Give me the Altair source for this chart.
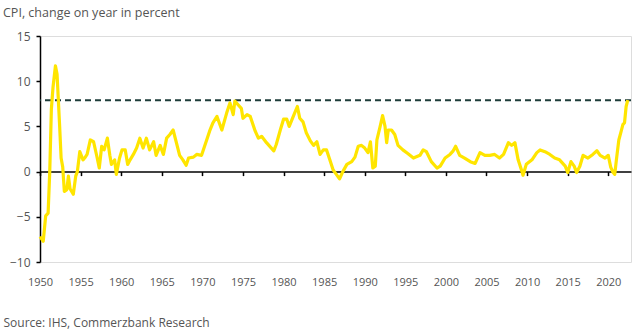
import altair as alt
import pandas as pd

years = [1950.0, 1950.4, 1950.7, 1951.0, 1951.2, 1951.4, 1951.6, 1951.9, 1952.1, 1952.4,
         1952.6, 1952.8, 1953.0, 1953.3, 1953.5, 1953.7, 1954.1, 1954.4, 1954.6, 1954.9,
         1955.3, 1955.5, 1955.8, 1956.2, 1956.6, 1957.0, 1957.3, 1957.6, 1957.9, 1958.3,
         1958.6, 1958.8, 1959.2, 1959.4, 1959.8, 1960.1, 1960.5, 1960.8, 1961.1, 1961.5,
         1961.9, 1962.3, 1962.7, 1963.1, 1963.5, 1964.0, 1964.3, 1964.8, 1965.2, 1965.6,
         1966.0, 1966.4, 1966.8, 1967.2, 1967.6, 1968.0, 1968.3, 1968.9, 1969.3, 1969.9,
         1970.5, 1970.9, 1971.3, 1971.8, 1972.4, 1973.0, 1973.4, 1973.8, 1974.0, 1974.4,
         1974.8, 1975.0, 1975.5, 1975.9, 1976.5, 1976.9, 1977.3, 1977.9, 1978.5, 1978.8,
         1979.1, 1979.6, 1980.0, 1980.4, 1980.7, 1981.2, 1981.7, 1982.0, 1982.4, 1982.8,
         1983.3, 1983.7, 1984.1, 1984.5, 1984.9, 1985.3, 1985.7, 1986.1, 1986.5, 1986.9,
         1987.3, 1987.8, 1988.4, 1988.8, 1989.2, 1989.6, 1990.0, 1990.4, 1990.7, 1991.0,
         1991.3, 1991.5, 1991.9, 1992.2, 1992.5, 1992.7, 1992.9, 1993.3, 1993.7, 1994.1,
         1994.7, 1995.3, 1996.0, 1996.8, 1997.2, 1997.6, 1998.2, 1998.9, 1999.3, 1999.9,
         2000.5, 2000.9, 2001.2, 2001.7, 2002.3, 2003.0, 2003.6, 2004.2, 2004.8, 2005.4,
         2006.0, 2006.6, 2007.1, 2007.7, 2008.1, 2008.5, 2008.9, 2009.3, 2009.5, 2009.9,
         2010.6, 2011.2, 2011.6, 2012.2, 2012.8, 2013.4, 2014.0, 2014.7, 2015.0, 2015.4,
         2015.8, 2016.1, 2016.5, 2016.9, 2017.5, 2018.1, 2018.6, 2019.0, 2019.6, 2020.0,
         2020.3, 2020.6, 2020.8, 2021.0, 2021.3, 2021.6, 2021.8, 2022.0, 2022.2, 2022.4]

cpi = [-7.2, -7.7, -4.9, -4.6, 0.0, 6.9, 9.3, 11.7, 10.8, 5.4,
       1.5, 0.5, -2.2, -2.0, -0.5, -1.9, -2.5, -0.5, 0.0, 2.2,
       1.3, 1.5, 1.9, 3.5, 3.3, 1.7, 0.4, 2.8, 2.4, 3.7,
       1.8, 0.8, 1.3, -0.3, 1.5, 2.4, 2.4, 0.8, 1.3, 1.9,
       2.6, 3.7, 2.6, 3.7, 2.4, 3.3, 1.8, 2.9, 1.9, 3.7,
       4.1, 4.6, 3.2, 1.8, 1.3, 0.7, 1.5, 1.6, 1.9, 1.8,
       3.4, 4.5, 5.4, 6.1, 4.6, 6.5, 7.6, 6.3, 7.8, 7.4,
       7.0, 5.9, 6.3, 6.1, 4.5, 3.7, 3.9, 3.2, 2.6, 2.3,
       3.0, 4.6, 5.8, 5.8, 5.0, 6.1, 7.2, 5.9, 5.5, 4.3,
       3.4, 2.9, 3.3, 1.9, 2.4, 2.4, 1.3, 0.2, -0.3, -0.8,
       0.0, 0.8, 1.1, 1.6, 2.8, 2.9, 2.6, 2.1, 3.3, 0.4,
       0.6, 3.5, 5.0, 6.2, 5.0, 3.2, 4.6, 4.6, 4.1, 2.9,
       2.4, 2.0, 1.5, 1.8, 2.4, 2.2, 1.1, 0.4, 0.6, 1.5,
       1.9, 2.3, 2.8, 1.8, 1.5, 1.1, 0.9, 2.1, 1.8, 1.8,
       1.9, 1.5, 1.9, 3.2, 2.9, 3.2, 1.3, 0.2, -0.4, 0.8,
       1.3, 2.1, 2.4, 2.2, 1.9, 1.5, 1.3, 0.6, -0.1, 1.1,
       0.6, -0.1, 0.6, 1.8, 1.5, 1.9, 2.3, 1.8, 1.5, 1.8,
       0.5, -0.1, -0.3, 1.3, 3.5, 4.5, 5.2, 5.4, 7.2, 7.9]

reference_level = [7.9]
x_ticks = [1950, 1955, 1960, 1965, 1970, 1975, 1980, 1985, 1990, 1995, 2000, 2005, 2010, 2015, 2020]
y_ticks = [-10, -5, 0, 5, 10, 15]

df = pd.DataFrame({"year": years, "cpi": cpi})
ref = pd.DataFrame({"level": reference_level})

FONT = "Open Sans"
GRAY = "#555555"

x_scale = alt.Scale(domain=[1950, 2022.8], nice=False, zero=False)
y_scale = alt.Scale(domain=[-10, 15], nice=False)

line = alt.Chart(df).mark_line(color="#ffe500", strokeWidth=3.2, strokeJoin="round").encode(
    x=alt.X("year:Q", scale=x_scale,
            axis=alt.Axis(values=x_ticks, format="d", orient="bottom", offset=-90.4,
                          domainColor="#000000", domainWidth=1.5, tickColor="#000000",
                          tickWidth=1.5, tickSize=4, labelPadding=101, labelFlush=False,
                          labelColor=GRAY, labelFont=FONT, labelFontSize=11, grid=False,
                          title="Source: IHS, Commerzbank Research", titleFont=FONT,
                          titleFontSize=12, titleFontWeight="normal", titleColor=GRAY,
                          titleAnchor="start", titleAlign="left", titleBaseline="middle",
                          titleX=-37, titleY=151)),
    y=alt.Y("cpi:Q", scale=y_scale,
            axis=alt.Axis(values=y_ticks, domainColor="#000000", domainWidth=1.5,
                          tickColor="#000000", tickWidth=1.5, tickSize=4, labelPadding=6,
                          labelColor=GRAY, labelFont=FONT, labelFontSize=12, grid=False,
                          title=None)),
)

rule = alt.Chart(ref).mark_rule(color="#1e3d3a", strokeWidth=2, strokeDash=[6, 4]).encode(
    y=alt.Y("level:Q", scale=y_scale),
)

chart = alt.layer(rule, line).properties(
    width=591,
    height=226,
    title=alt.TitleParams("CPI, change on year in percent", anchor="start", frame="group",
                          dx=-37, offset=11, font=FONT, fontSize=12.5,
                          fontWeight="normal", color=GRAY),
    autosize=alt.AutoSizeParams(type="none"),
    padding={"left": 40, "top": 36, "right": 12, "bottom": 74},
).configure_view(stroke=None).configure(background="white")

chart.save("out.html", embed_options={"renderer": "svg", "actions": False})
